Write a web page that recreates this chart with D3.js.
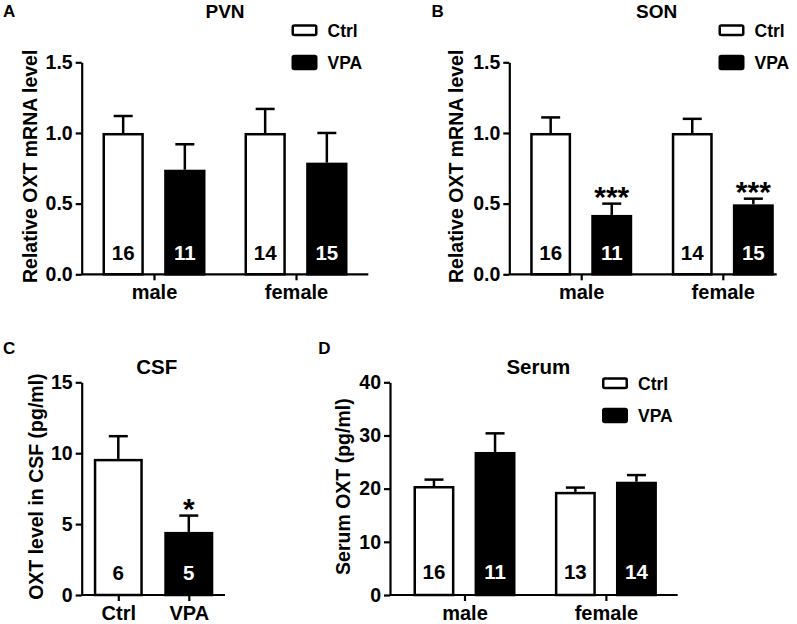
<!DOCTYPE html>
<html>
<head>
<meta charset="utf-8">
<script src="https://cdn.jsdelivr.net/npm/d3@7"></script>
<style>
  body { margin: 0; background: #fff; }
  svg { display: block; font-family: "Liberation Sans", Arial, sans-serif; font-weight: bold; }
</style>
</head>
<body>
<svg width="797" height="624"></svg>
<script>
const groups = ["male", "female"]
const series = ["Ctrl", "VPA"]

// PVN
const pvnCtrl = [1.0, 1.0], pvnCtrlErr = [0.12, 0.17], pvnCtrlN = [16, 14]
const pvnVpa = [0.74, 0.79], pvnVpaErr = [0.18, 0.21], pvnVpaN = [11, 15]
// SON
const sonCtrl = [1.0, 1.0], sonCtrlErr = [0.11, 0.10], sonCtrlN = [16, 14]
const sonVpa = [0.42, 0.495], sonVpaErr = [0.08, 0.04], sonVpaN = [11, 15]
const sonVpaStars = ["***", "***"]
// CSF
const csfGroups = ["Ctrl", "VPA"]
const csfMean = [9.6, 4.45], csfErr = [1.6, 1.15], csfN = [6, 5]
const csfStars = ["", "*"]
// Serum
const serCtrl = [20.5, 19.4], serCtrlErr = [1.2, 0.8], serCtrlN = [16, 13]
const serVpa = [26.9, 21.3], serVpaErr = [3.5, 1.25], serVpaN = [11, 14]

const mrnaTicks = [0, 0.5, 1.0, 1.5]
const csfTicks = [0, 5, 10, 15]
const serTicks = [0, 10, 20, 30, 40]

const fill = { Ctrl: "#fff", VPA: "#000" }
const svg = d3.select("svg")

function rowsFor(ctrl, ctrlErr, ctrlN, vpa, vpaErr, vpaN, stars) {
    const rows = []
    groups.forEach((g, i) => {
        rows.push({ group: g, series: "Ctrl", value: ctrl[i], err: ctrlErr[i], n: ctrlN[i], star: "" })
        rows.push({ group: g, series: "VPA", value: vpa[i], err: vpaErr[i], n: vpaN[i], star: stars ? stars[i] : "" })
    })
    return rows
}

function panel(c) {
    const g = svg.append("g")

    const y = d3.scaleLinear().domain(c.yDomain).range(c.yRange)
    const x = d3.scalePoint().domain(c.groups).range(c.groupRange)
    const x1 = d3.scaleBand().domain(c.inner).range([-c.innerHalf, c.innerHalf]).paddingInner(c.innerPad)

    // bars
    const sw = 2.5
    const bar = g.append("g").selectAll("g")
        .data(c.rows)
        .join("g")
        .attr("transform", d => `translate(${x(d.group) + x1(d.inner || d.series)},0)`)

    // error bars (upper only)
    bar.append("line")
        .attr("x1", x1.bandwidth() / 2).attr("x2", x1.bandwidth() / 2)
        .attr("y1", d => y(d.value)).attr("y2", d => y(d.value + d.err))
        .attr("stroke", "#000").attr("stroke-width", sw)
    bar.append("line")
        .attr("x1", x1.bandwidth() / 2 - 9.5).attr("x2", x1.bandwidth() / 2 + 9.5)
        .attr("y1", d => y(d.value + d.err)).attr("y2", d => y(d.value + d.err))
        .attr("stroke", "#000").attr("stroke-width", sw)

    bar.append("rect")
        .attr("x", sw / 2)
        .attr("y", d => y(d.value) + sw / 2)
        .attr("width", x1.bandwidth() - sw)
        .attr("height", d => y(0) - y(d.value) - sw / 2)
        .attr("fill", d => fill[d.series])
        .attr("stroke", "#000").attr("stroke-width", sw)

    bar.append("text")
        .attr("x", x1.bandwidth() / 2)
        .attr("y", y(0) - c.nOffset)
        .attr("text-anchor", "middle")
        .attr("font-size", 20.5)
        .attr("fill", d => d.series === "VPA" ? "#fff" : "#000")
        .text(d => d.n)

    bar.filter(d => d.star).append("text")
        .attr("x", x1.bandwidth() / 2)
        .attr("y", d => y(d.value + d.err) + 3)
        .attr("text-anchor", "middle")
        .attr("font-size", 30)
        .text(d => d.star)

    // y axis
    g.append("g")
        .attr("transform", `translate(${c.axisX[0]},0)`)
        .call(d3.axisLeft(y).tickValues(c.ticks).tickFormat(c.fmt).tickSize(6).tickSizeOuter(0).tickPadding(3))
        .call(a => a.selectAll("path, line").attr("stroke", "#000").attr("stroke-width", 2.2))
        .call(a => a.selectAll("text").attr("font-size", 19.5).attr("fill", "#000"))
        .attr("font-family", null)

    // x axis
    g.append("line")
        .attr("x1", c.axisX[0]).attr("x2", c.axisX[1])
        .attr("y1", y(0)).attr("y2", y(0))
        .attr("stroke", "#000").attr("stroke-width", 2.2)
    g.append("g")
        .attr("transform", `translate(0,${y(0)})`)
        .call(d3.axisBottom(x).tickSize(6).tickSizeOuter(0).tickPadding(5))
        .call(a => a.select(".domain").remove())
        .call(a => a.selectAll("line").attr("stroke", "#000").attr("stroke-width", 2.2))
        .call(a => a.selectAll("text").attr("font-size", 20).attr("fill", "#000"))
        .attr("font-family", null)

    // y label
    g.append("text")
        .attr("transform", `translate(${c.yLabelX},${(c.yRange[0] + c.yRange[1]) / 2 - 2}) rotate(-90)`)
        .attr("text-anchor", "middle")
        .attr("font-size", 19.5)
        .text(c.yLabel)

    // title and letter
    g.append("text")
        .attr("x", c.titleX).attr("y", c.titleY)
        .attr("text-anchor", "middle")
        .attr("font-size", c.titleSize)
        .text(c.title)
    g.append("text")
        .attr("x", c.letterX).attr("y", c.letterY)
        .attr("font-size", 17)
        .text(c.letter)

    // legend
    if (c.legend) {
        const lg = g.append("g").selectAll("g")
            .data(series)
            .join("g")
            .attr("transform", (d, i) => `translate(${c.legend[0]},${c.legend[1] + i * 32.5})`)
        lg.append("rect")
            .attr("x", 1.25).attr("y", (d, i) => i ? -2 : 0)
            .attr("width", 23.5).attr("height", (d, i) => i ? 13 : 9.5)
            .attr("rx", 1.5)
            .attr("fill", d => fill[d]).attr("stroke", "#000").attr("stroke-width", 2.5)
        lg.append("text")
            .attr("x", 36).attr("y", 11)
            .attr("font-size", 17.5)
            .text(d => d)
    }
}

panel({
    letter: "A", letterX: 3, letterY: 17,
    title: "PVN", titleX: 225, titleY: 18, titleSize: 19,
    yLabel: "Relative OXT mRNA level", yLabelX: 37,
    yDomain: [0, 1.5], yRange: [274.3, 62.3], ticks: mrnaTicks, fmt: d3.format(".1f"),
    axisX: [81.7, 368.3], groups: groups, groupRange: [154, 296],
    inner: series, innerHalf: 51.5, innerPad: 0.33, nOffset: 14,
    rows: rowsFor(pvnCtrl, pvnCtrlErr, pvnCtrlN, pvnVpa, pvnVpaErr, pvnVpaN),
    legend: [291.5, 25.5]
})

panel({
    letter: "B", letterX: 431.5, letterY: 17,
    title: "SON", titleX: 656.7, titleY: 18, titleSize: 19,
    yLabel: "Relative OXT mRNA level", yLabelX: 463,
    yDomain: [0, 1.5], yRange: [274.3, 62.3], ticks: mrnaTicks, fmt: d3.format(".1f"),
    axisX: [509.3, 776.7], groups: groups, groupRange: [581.2, 722.8],
    inner: series, innerHalf: 51, innerPad: 0.33, nOffset: 14,
    rows: rowsFor(sonCtrl, sonCtrlErr, sonCtrlN, sonVpa, sonVpaErr, sonVpaN, sonVpaStars),
    legend: [718.5, 25.5]
})

panel({
    letter: "C", letterX: 3, letterY: 353.5,
    title: "CSF", titleX: 156.7, titleY: 373.5, titleSize: 20.5,
    yLabel: "OXT level in CSF (pg/ml)", yLabelX: 43,
    yDomain: [0, 15], yRange: [595, 382.3], ticks: csfTicks, fmt: d3.format("d"),
    axisX: [81.7, 225], groups: csfGroups, groupRange: [118.3, 188.8],
    inner: ["one"], innerHalf: 24.5, innerPad: 0, nOffset: 15,
    rows: csfGroups.map((gr, i) => ({ group: gr, series: gr, inner: "one", value: csfMean[i], err: csfErr[i], n: csfN[i], star: csfStars[i] }))
})

panel({
    letter: "D", letterX: 318.3, letterY: 354.3,
    title: "Serum", titleX: 538.3, titleY: 373.5, titleSize: 20.5,
    yLabel: "Serum OXT (pg/ml)", yLabelX: 350,
    yDomain: [0, 40], yRange: [595, 382.3], ticks: serTicks, fmt: d3.format("d"),
    axisX: [390, 677.7], groups: groups, groupRange: [464.5, 605.9],
    inner: series, innerHalf: 51, innerPad: 0.33, nOffset: 16,
    rows: rowsFor(serCtrl, serCtrlErr, serCtrlN, serVpa, serVpaErr, serVpaN),
    legend: [602, 378.5]
})
</script>
</body>
</html>
